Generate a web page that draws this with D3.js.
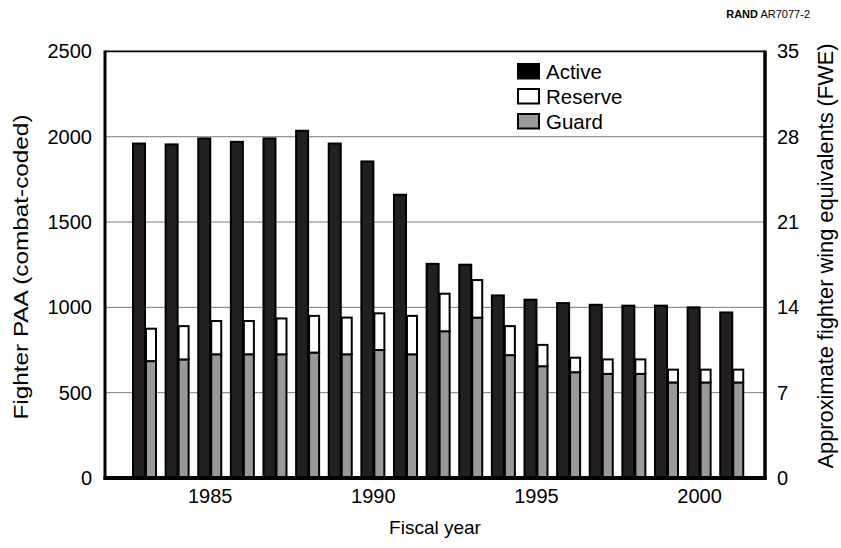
<!DOCTYPE html>
<html>
<head>
<meta charset="utf-8">
<script src="https://cdn.jsdelivr.net/npm/d3@7/dist/d3.min.js"></script>
<style>
  html, body { margin: 0; padding: 0; background: #fff; }
  svg { display: block; font-family: "Liberation Sans", Arial, sans-serif; }
</style>
</head>
<body>
<svg id="chart" width="841" height="548"></svg>
<script>
// Fiscal years
const years = [1983, 1984, 1985, 1986, 1987, 1988, 1989, 1990, 1991, 1992,
               1993, 1994, 1995, 1996, 1997, 1998, 1999, 2000, 2001];
// Fighter PAA, combat-coded
const active  = [1960, 1955, 1990, 1970, 1990, 2035, 1960, 1855, 1660, 1255,
                 1250, 1070, 1045, 1025, 1015, 1010, 1010, 1000, 970];
const guard   = [685, 695, 725, 725, 725, 735, 725, 750, 725, 860,
                 940, 720, 655, 620, 610, 610, 560, 560, 560];
const reserve = [190, 195, 195, 195, 210, 215, 215, 215, 225, 220,
                 220, 170, 125, 85, 85, 85, 75, 75, 75];
// Axis ticks
const leftTicks  = [0, 500, 1000, 1500, 2000, 2500];
const rightTicks = [0, 7, 14, 21, 28, 35];
const yearTicks  = [1985, 1990, 1995, 2000];
const legendItems = ["Active", "Reserve", "Guard"];

const svg = d3.select("#chart");
const plotL = 105, plotR = 765, plotT = 51.4, plotB = 478;

const x = d3.scaleLinear().domain([1981.79, 2002.02]).range([plotL, plotR]);
const y = d3.scaleLinear().domain([0, 2500]).range([plotB, plotT]);
const yR = d3.scaleLinear().domain([0, 35]).range([plotB, plotT]);
const step = x(1984) - x(1983);
const wA = step * 0.368, wR = step * 0.307;

// Gridlines
svg.append("g").selectAll("line")
  .data(leftTicks.filter(d => d > 0 && d < 2500))
  .join("line")
  .attr("x1", plotL).attr("x2", plotR)
  .attr("y1", d => y(d)).attr("y2", d => y(d))
  .attr("stroke", "#7a7a7a").attr("stroke-width", 1);

// Top border
svg.append("line")
  .attr("x1", plotL).attr("x2", plotR)
  .attr("y1", y(2500)).attr("y2", y(2500))
  .attr("stroke", "#000").attr("stroke-width", 1.6);

const rows = years.map((yr, i) => ({ yr, a: active[i], g: guard[i], r: reserve[i] }));
const bars = svg.append("g").attr("stroke", "#000").attr("stroke-width", 2);

// Active
bars.selectAll("rect.active").data(rows).join("rect")
  .attr("class", "active")
  .attr("x", d => x(d.yr) - step * 0.352)
  .attr("width", wA)
  .attr("y", d => y(d.a))
  .attr("height", d => y(0) - y(d.a))
  .attr("fill", "#231f20");

// Guard (bottom of stack)
bars.selectAll("rect.guard").data(rows).join("rect")
  .attr("class", "guard")
  .attr("x", d => x(d.yr) + step * 0.046)
  .attr("width", wR)
  .attr("y", d => y(d.g))
  .attr("height", d => y(0) - y(d.g))
  .attr("fill", "#999999");

// Reserve (stacked on guard)
bars.selectAll("rect.reserve").data(rows).join("rect")
  .attr("class", "reserve")
  .attr("x", d => x(d.yr) + step * 0.046)
  .attr("width", wR)
  .attr("y", d => y(d.g + d.r))
  .attr("height", d => y(d.g) - y(d.g + d.r))
  .attr("fill", "#fff");

// Axes
const fs = "20px";
const gL = svg.append("g").attr("transform", `translate(${plotL},0)`)
  .call(d3.axisLeft(y).tickValues(leftTicks).tickFormat(d3.format("d")).tickSize(0).tickPadding(13));
const gR = svg.append("g").attr("transform", `translate(${plotR},0)`)
  .call(d3.axisRight(yR).tickValues(rightTicks).tickFormat(d3.format("d")).tickSize(0).tickPadding(12));
const gB = svg.append("g").attr("transform", `translate(0,${plotB})`)
  .call(d3.axisBottom(x).tickValues(yearTicks).tickFormat(d3.format("d")).tickSize(0).tickPadding(11));
[gL, gR, gB].forEach(g => {
  g.select(".domain").remove();
  g.selectAll("text").attr("font-size", fs).attr("fill", "#000")
    .attr("font-family", "Liberation Sans, Arial, sans-serif");
});

// Axis lines
svg.append("line").attr("x1", plotL).attr("x2", plotL).attr("y1", plotT - 1).attr("y2", plotB + 2)
  .attr("stroke", "#000").attr("stroke-width", 3);
svg.append("line").attr("x1", plotR).attr("x2", plotR).attr("y1", plotT - 1).attr("y2", plotB + 2)
  .attr("stroke", "#000").attr("stroke-width", 3.5);
svg.append("line").attr("x1", plotL - 1.5).attr("x2", plotR + 1.5).attr("y1", plotB).attr("y2", plotB)
  .attr("stroke", "#000").attr("stroke-width", 4);

// Axis titles
svg.append("text")
  .attr("transform", `translate(28,267) rotate(-90)`)
  .attr("text-anchor", "middle").attr("font-size", "20.5px")
  .attr("textLength", 305).attr("lengthAdjust", "spacingAndGlyphs")
  .text("Fighter PAA (combat-coded)");
svg.append("text")
  .attr("transform", `translate(833,256) rotate(-90)`)
  .attr("text-anchor", "middle").attr("font-size", "21.5px")
  .attr("textLength", 425).attr("lengthAdjust", "spacingAndGlyphs")
  .text("Approximate fighter wing equivalents (FWE)");
svg.append("text")
  .attr("x", (plotL + plotR) / 2).attr("y", 534)
  .attr("text-anchor", "middle").attr("font-size", "19px")
  .text("Fiscal year");

// Legend
const fills = ["#000", "#fff", "#999999"];
const lg = svg.append("g").attr("transform", "translate(518,64)");
const li = lg.selectAll("g").data(legendItems).join("g")
  .attr("transform", (d, i) => `translate(0,${i * 25})`);
li.append("rect").attr("width", 21).attr("height", 14.5)
  .attr("fill", (d, i) => fills[i]).attr("stroke", "#000").attr("stroke-width", 2);
li.append("text").attr("x", 28).attr("y", 14.5)
  .attr("font-size", "20.5px").text(d => d);

// Figure number
const tag = svg.append("text").attr("x", 810).attr("y", 18)
  .attr("text-anchor", "end").attr("font-size", "11px");
tag.append("tspan").attr("font-weight", "bold").text("RAND");
tag.append("tspan").text(" AR7077-2");
</script>
</body>
</html>
